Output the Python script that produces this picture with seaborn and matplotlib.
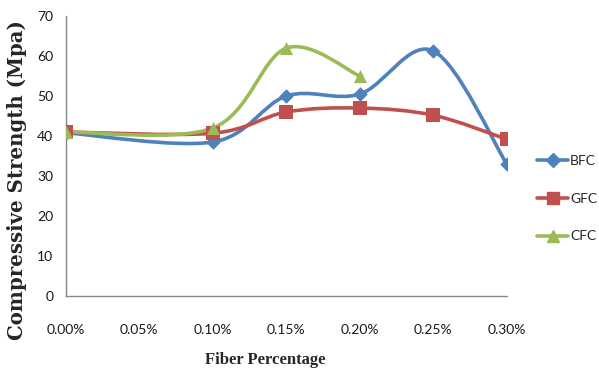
import numpy as np
import pandas as pd
import matplotlib
matplotlib.use('Agg')
import matplotlib.pyplot as plt
import seaborn as sns
from matplotlib.path import Path
from matplotlib.patches import PathPatch
from matplotlib.lines import Line2D
from matplotlib.ticker import FuncFormatter, MultipleLocator

# fiber percentage (%) and compressive strength (MPa)
bfc_x = [0.00, 0.10, 0.15, 0.20, 0.25, 0.30]
bfc_y = [40.8, 38.5, 50.0, 50.5, 61.3, 33.0]
gfc_x = [0.00, 0.10, 0.15, 0.20, 0.25, 0.30]
gfc_y = [41.0, 40.7, 46.0, 47.0, 45.2, 39.2]
cfc_x = [0.00, 0.10, 0.15, 0.20]
cfc_y = [41.0, 42.0, 62.0, 55.0]

series = ['BFC', 'GFC', 'CFC']
colors = {'BFC': '#4F81BD', 'GFC': '#C0504D', 'CFC': '#9BBB59'}
markers = {'BFC': 'D', 'GFC': 's', 'CFC': '^'}
msizes = {'BFC': 55, 'GFC': 110, 'CFC': 90}

df = pd.concat([
    pd.DataFrame({'x': bfc_x, 'y': bfc_y, 'mix': 'BFC'}),
    pd.DataFrame({'x': gfc_x, 'y': gfc_y, 'mix': 'GFC'}),
    pd.DataFrame({'x': cfc_x, 'y': cfc_y, 'mix': 'CFC'}),
])


def smooth_path(xs, ys):
    # Excel-style smoothed line: cubic Bezier through the points
    pts = np.column_stack([xs, ys])
    n = len(pts)
    verts = [pts[0]]
    codes = [Path.MOVETO]
    for i in range(n - 1):
        p0 = pts[i - 1] if i > 0 else pts[i]
        p1 = pts[i]
        p2 = pts[i + 1]
        p3 = pts[i + 2] if i + 2 < n else pts[i + 1]
        verts += [p1 + (p2 - p0) / 6, p2 - (p3 - p1) / 6, p2]
        codes += [Path.CURVE4] * 3
    return Path(verts, codes)


sns.set_style('white')
fig = plt.figure(figsize=(5.99, 3.75), dpi=100)
ax = fig.add_axes([0.110, 0.211, 0.736, 0.746])

for name in series:
    sub = df[df['mix'] == name]
    ax.add_patch(PathPatch(smooth_path(sub['x'].values, sub['y'].values),
                           facecolor='none', edgecolor=colors[name],
                           lw=2.6, zorder=2, capstyle='round'))
    sns.scatterplot(data=sub, x='x', y='y', marker=markers[name],
                    color=colors[name], s=msizes[name], linewidth=0,
                    ax=ax, zorder=3, legend=False)

ax.set_xlim(0, 0.30)
ax.set_ylim(0, 70)
ax.xaxis.set_major_locator(MultipleLocator(0.05))
ax.yaxis.set_major_locator(MultipleLocator(10))
ax.xaxis.set_major_formatter(FuncFormatter(lambda v, p: f'{v:.2f}%'))

tick_font = ['Lato', 'DejaVu Sans']
for lab in ax.get_xticklabels() + ax.get_yticklabels():
    lab.set_family(tick_font)
    lab.set_fontsize(10)
    lab.set_color('#1a1a1a')
ax.tick_params(axis='x', length=0, pad=20)
ax.tick_params(axis='y', length=0, pad=9)

for side in ['top', 'right']:
    ax.spines[side].set_visible(False)
for side in ['left', 'bottom']:
    ax.spines[side].set_color('#888888')
    ax.spines[side].set_linewidth(1.0)

ax.set_xlabel('')
ax.set_ylabel('')
fig.text(0.028, 0.52, 'Compressive Strength (Mpa)', rotation=90,
         ha='center', va='center', family='DejaVu Serif',
         fontweight='bold', fontsize=14.2)
fig.text(0.442, 0.04, 'Fiber Percentage', ha='center', va='center',
         family='Liberation Serif', fontweight='bold', fontsize=12)

handles = [Line2D([], [], color=colors[n], lw=2.6, marker=markers[n],
                  markersize={'BFC': 7, 'GFC': 9, 'CFC': 8}[n])
           for n in series]
leg = fig.legend(handles, series, loc='center left',
                 bbox_to_anchor=(0.897, 0.47), frameon=False,
                 borderpad=0, borderaxespad=0,
                 handlelength=2.2, handletextpad=0.15, labelspacing=1.85,
                 prop={'family': tick_font, 'size': 10})

fig.savefig('out.png', dpi=100)
